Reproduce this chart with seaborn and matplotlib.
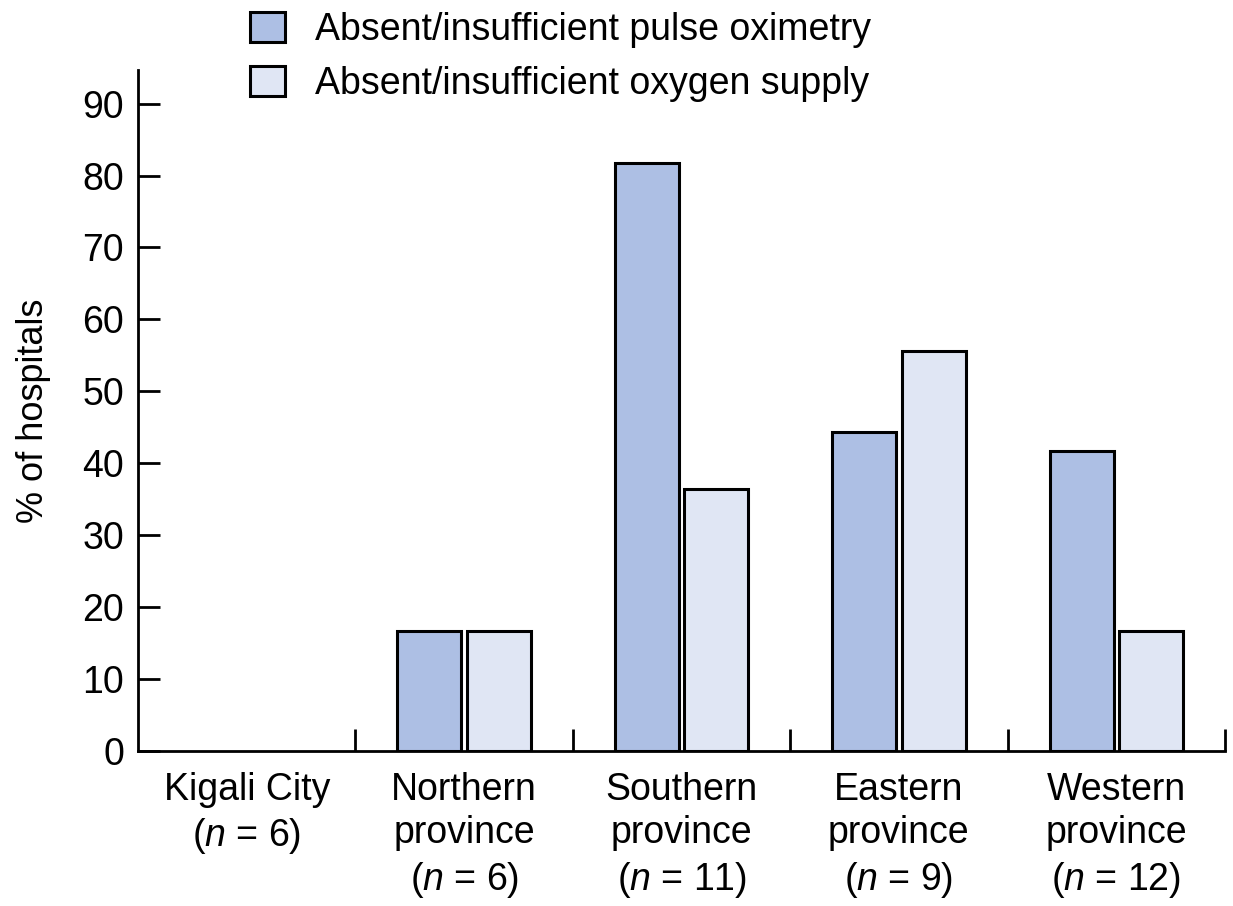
import seaborn as sns
import numpy as np
import pandas as pd
import matplotlib
matplotlib.use("Agg")
import matplotlib.pyplot as plt
from matplotlib.patches import Patch

# data
regions = ["Kigali City\n($n$ = 6)", "Northern\nprovince\n($n$ = 6)", "Southern\nprovince\n($n$ = 11)",
           "Eastern\nprovince\n($n$ = 9)", "Western\nprovince\n($n$ = 12)"]
pulse_ox = [0, 16.7, 81.8, 44.4, 41.7]
oxygen = [0, 16.7, 36.4, 55.6, 16.7]
series = ["Absent/insufficient pulse oximetry", "Absent/insufficient oxygen supply"]
colors = ["#adbfe4", "#e0e6f4"]

df = pd.DataFrame({
    "region": regions * 2,
    "pct": pulse_ox + oxygen,
    "series": [series[0]] * len(regions) + [series[1]] * len(regions),
})

sns.set_style("ticks")
plt.rcParams["font.family"] = ["Liberation Sans", "DejaVu Sans"]
plt.rcParams["mathtext.fontset"] = "custom"
plt.rcParams["mathtext.it"] = "Liberation Sans:italic"
plt.rcParams["mathtext.rm"] = "Liberation Sans"
plt.rcParams["text.color"] = "black"
plt.rcParams["xtick.color"] = "black"
plt.rcParams["ytick.color"] = "black"
plt.rcParams["axes.edgecolor"] = "black"
plt.rcParams["axes.labelcolor"] = "black"

fig = plt.figure(figsize=(12.33, 9.06), dpi=100)
ax = fig.add_axes([0.112, 0.171, 0.8815, 0.752])

sns.barplot(data=df, x="region", y="pct", hue="series", palette=colors, saturation=1,
            width=0.64, gap=0.08, edgecolor="black", linewidth=2.2, ax=ax, legend=False)

# zero-height bars are not drawn in the original
for p in ax.patches:
    if p.get_height() == 0:
        p.set_linewidth(0)

ax.set_xlim(-0.5, 4.5)
ax.set_ylim(0, 94.7)
ax.set_yticks(np.arange(0, 91, 10))
ax.tick_params(axis="y", direction="in", length=16, width=2, labelsize=27, pad=10)
ax.tick_params(axis="x", which="major", length=0, labelsize=27, pad=15)
ax.set_xticks(np.arange(0.5, 4.6, 1), minor=True)
ax.tick_params(axis="x", which="minor", direction="in", length=16, width=2)
for lab in ax.get_xticklabels():
    lab.set_linespacing(1.27)
for s in ["top", "right"]:
    ax.spines[s].set_visible(False)
for s in ["left", "bottom"]:
    ax.spines[s].set_linewidth(2)
ax.set_xlabel("")
ax.set_ylabel("% of hospitals", fontsize=26, labelpad=23)

handles = [Patch(facecolor=c, edgecolor="black", linewidth=2.2) for c in colors]
ax.legend(handles, series, loc="upper left", bbox_to_anchor=(0.1755, 1.024), bbox_transform=fig.transFigure,
          frameon=False, fontsize=27, handlelength=0.93, handleheight=0.85, handletextpad=0.8,
          labelspacing=0.47)

fig.savefig("out.png", dpi=100)
